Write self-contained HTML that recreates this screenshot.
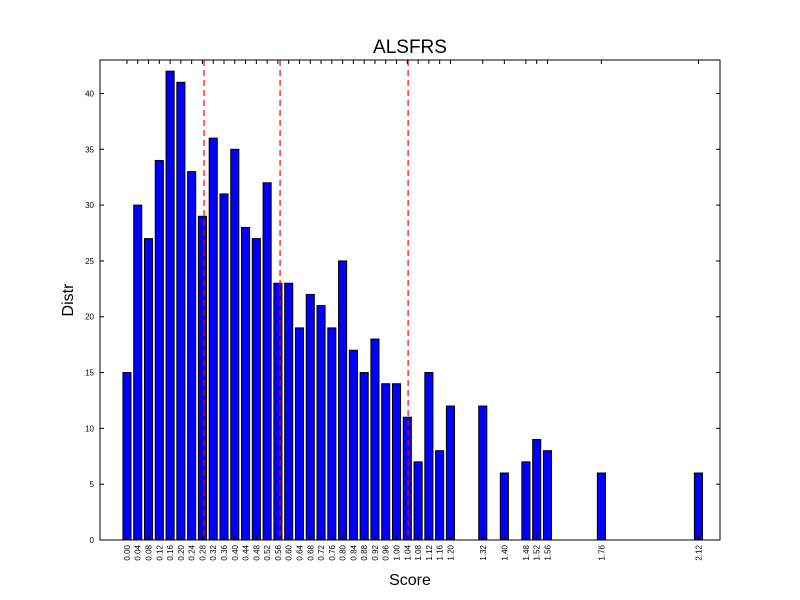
<!DOCTYPE html>
<html><head><meta charset="utf-8"><style>
body{margin:0;background:#fff;}
svg{display:block;font-family:"Liberation Sans",sans-serif;}
</style></head><body>
<svg id="chart" width="800" height="600"></svg>
<script>
const scores = ["0.00","0.04","0.08","0.12","0.16","0.20","0.24","0.28","0.32","0.36","0.40","0.44","0.48","0.52","0.56","0.60","0.64","0.68","0.72","0.76","0.80","0.84","0.88","0.92","0.96","1.00","1.04","1.08","1.12","1.16","1.20","1.32","1.40","1.48","1.52","1.56","1.76","2.12"];
const counts = [15,30,27,34,42,41,33,29,36,31,35,28,27,32,23,23,19,22,21,19,25,17,15,18,14,14,11,7,15,8,12,12,6,7,9,8,6,6];
const yTicks = [0,5,10,15,20,25,30,35,40];
const thresholds = [0.286,0.568,1.043];

const NS="http://www.w3.org/2000/svg";
const svg=document.getElementById('chart');
const L=100,R=720,T=60,B=540;
const xMin=-0.1,xMax=2.2,yMin=0,yMax=43;
const xs=v=>L+(v-xMin)/(xMax-xMin)*(R-L);
const ys=v=>B-(v-yMin)/(yMax-yMin)*(B-T);
function mk(tag,attrs,parent){const e=document.createElementNS(NS,tag);for(const k in attrs)e.setAttribute(k,attrs[k]);(parent||svg).appendChild(e);return e;}

const bars=mk('g',{});


scores.forEach((s,i)=>{
  const v=+s, w=0.03;
  const r=mk('rect',{x:xs(v-w/2),y:ys(counts[i]),width:xs(v+w/2)-xs(v-w/2),height:ys(0)-ys(counts[i]),fill:'#0000ff',stroke:'#000','stroke-width':1},bars);
  
  
});
thresholds.forEach((t,i)=>{
  const l=mk('line',{x1:xs(t),x2:xs(t),y1:T,y2:B,stroke:'#ff0000','stroke-width':1.2,'stroke-dasharray':'6,4'});
  
  
});
const frame=mk('rect',{x:L,y:T,width:R-L,height:B-T,fill:'none',stroke:'#000','stroke-width':1});



yTicks.forEach(t=>{
  const y=ys(t);
  mk('line',{x1:L,x2:L+4,y1:y,y2:y,stroke:'#000'});
  mk('line',{x1:R,x2:R-4,y1:y,y2:y,stroke:'#000'});
  const tx=mk('text',{x:L-6,y:y+3,'font-size':8,'text-anchor':'end'});
  tx.textContent=t;
  
  
});
scores.forEach(s=>{
  const x=xs(+s);
  mk('line',{x1:x,x2:x,y1:B,y2:B-4,stroke:'#000'});
  mk('line',{x1:x,x2:x,y1:T,y2:T+4,stroke:'#000'});
  const tx=mk('text',{x:0,y:0,'font-size':8,'text-anchor':'end',transform:`translate(${x+3},${B+5}) rotate(-90)`});
  tx.textContent=s;
  
  
});
const title=mk('text',{x:(L+R)/2,y:53,'font-size':19,'text-anchor':'middle'});
title.textContent='ALSFRS';


const xl=mk('text',{x:(L+R)/2,y:585,'font-size':16,'text-anchor':'middle'});
xl.textContent='Score';


const yl=mk('text',{x:0,y:0,'font-size':16,'text-anchor':'middle',transform:`translate(73,${(T+B)/2}) rotate(-90)`});
yl.textContent='Distr';


</script>
</body></html>
